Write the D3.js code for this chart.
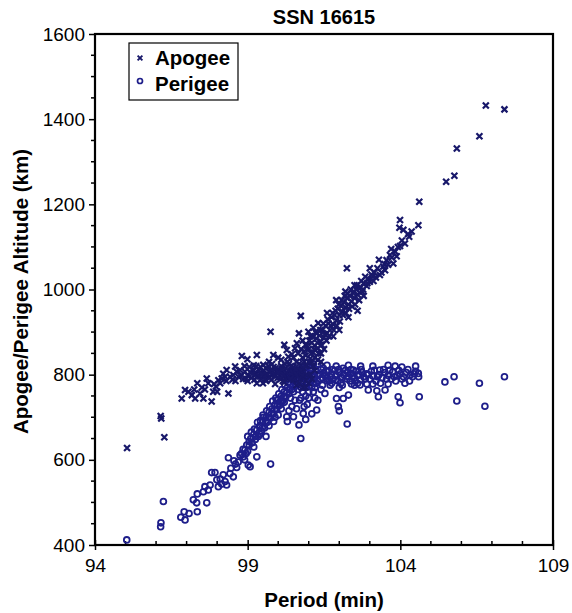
<!DOCTYPE html>
<html>
<head>
<meta charset="utf-8">
<script src="https://cdn.jsdelivr.net/npm/d3@7"></script>
<style>
  html, body { margin: 0; padding: 0; background: #fff; }
  svg text { font-family: "Liberation Sans", Arial, sans-serif; }
</style>
</head>
<body>
<svg id="chart" width="572" height="613"></svg>
<script>
// Gabbard diagram: debris of SSN 16615, orbital period vs apogee / perigee altitude
const chartTitle = "SSN 16615";
const xTitle = "Period (min)";
const yTitle = "Apogee/Perigee Altitude (km)";
const seriesNames = ["Apogee", "Perigee"];
const xTicks = [94, 99, 104, 109];
const yTicks = [400, 600, 800, 1000, 1200, 1400, 1600];

// [period (min), apogee altitude (km)]
const apogee = [
  [95.05,628],[96.15,703],[96.17,697],[96.27,653],
  [96.84,744],[96.95,764],[97.06,760],[97.17,752],[97.28,744],[97.35,780],[97.44,756],[97.55,744],
  [97.66,791],[97.71,780],[97.82,737],[97.87,760],[97.96,772],[98.04,787],[98.15,791],[98.26,795],
  [98.31,811],[98.37,756],[98.42,795],[98.53,799],[98.59,819],[98.64,807],[98.75,811],[98.81,799],
  [98.91,807],[98.99,836],
  [97.5,770],[97.6,765],[97.9,778],[98.1,780],[98.2,802],[98.5,788],[98.7,795],[98.85,790],[98.0,760],[97.25,765],
  [99.0,785],[98.6,785],[98.3,785],[98.9,820],[99.2,822],[99.5,780],[99.8,825],[100.15,785],
  [99.0,798],[99.08,806],[99.12,792],[99.2,810],[99.25,800],[99.3,795],[99.35,812],[99.4,803],[99.45,790],
  [99.5,808],[99.55,798],[99.6,815],[99.65,802],[99.7,792],[99.75,810],[99.8,800],[99.85,818],[99.9,795],
  [99.95,806],[100.0,812],[100.05,798],[100.1,820],[100.15,805],[100.2,795],[100.25,815],[100.3,803],
  [100.35,825],[100.4,808],[100.45,795],[100.5,818],[100.55,805],[100.6,830],[100.65,812],[100.7,800],
  [100.75,822],[100.8,808],
  [98.95,790],[99.05,818],[99.15,802],[99.22,788],[99.28,820],[99.38,796],[99.42,818],[99.48,800],
  [99.58,790],[99.62,800],[99.68,820],[99.72,805],[99.78,788],[99.82,808],[99.88,800],[99.92,815],
  [99.98,792],[100.02,805],[100.08,790],[100.12,812],[100.18,800],[100.22,825],[100.28,792],[100.32,810],
  [100.38,798],[100.42,820],[100.48,805],[100.52,795],[100.58,812],[100.62,800],[100.68,825],[100.72,810],
  [100.78,798],[100.82,815],
  [99.3,780],[99.6,785],[99.9,778],[100.2,782],[100.5,788],[100.7,790],[100.85,795],[100.9,785],
  [100.6,775],[100.8,770],[101.0,780],[101.1,790],[100.95,800],[101.2,810],[100.4,790],
  [100.7,780],[100.9,770],[101.05,800],[101.15,820],[101.3,835],[101.4,830],
  [100.3,830],[100.5,840],[100.65,850],[100.75,860],[100.9,870],[101.05,890],[100.8,880],[101.15,910],
  [98.81,844],[99.3,846],[99.84,846],[100.33,842],[100.28,858],[100.61,874],[99.51,823],[99.75,901],
  [100.74,938],[100.68,897],[101.31,921],[100.99,901],[101.26,897],[100.1,835],[100.45,848],[100.55,862],
  [100.2,870],[99.7,830],[100.0,840],
  [100.85,830],[100.9,845],[100.95,822],[101.0,860],[101.05,838],[101.1,875],[101.15,852],[101.2,868],
  [101.25,885],[101.3,862],[101.35,892],[101.4,878],[101.45,905],[101.5,888],[101.55,915],[101.6,898],
  [101.65,920],[101.7,905],[101.75,935],[101.8,918],[101.85,940],[101.9,928],[101.95,955],[102.0,940],
  [102.05,962],[102.1,948],[102.15,970],[102.2,958],[102.25,980],[102.3,965],[102.35,985],[102.4,972],
  [102.45,992],[102.5,980],[102.55,1000],[102.6,988],[102.7,1005],[102.75,995],[102.8,1015],[102.9,1008],
  [102.95,1025],[103.0,1018],[103.1,1030],[103.15,1040],[103.2,1028],[103.33,1034],[103.44,1054],
  [103.55,1069],[103.66,1081],[103.77,1061],[103.83,1089],[103.99,1102],[104.29,1124],[104.37,1136],
  [103.97,1145],[104.59,1151],[103.99,1163],[104.62,1206],[105.5,1253],[105.77,1267],[105.85,1331],
  [106.59,1360],[106.8,1432],[107.41,1423],
  [101.2,840],[101.5,860],[101.8,890],[102.0,905],[102.3,935],[102.6,950],[101.6,945],[101.9,975],
  [102.2,995],[102.25,1050],[102.5,1010],[103.0,1050],[103.3,1070],[103.5,1045],[103.7,1095],[102.8,985],
  [101.1,830],[101.4,850],
  [100.8,840],[100.85,855],[100.9,820],[100.95,868],[101.0,830],[101.02,880],[101.08,850],[101.12,890],
  [101.18,860],[101.22,900],[101.28,875],[101.32,850],[101.38,905],[101.42,870],[101.48,920],[101.52,895],
  [101.58,880],[101.62,930],[101.68,890],[101.72,915],[101.78,945],[101.82,905],[101.88,950],[101.92,915],
  [101.98,965],[102.02,925],[102.08,975],[102.12,940],[102.18,985],[102.22,945],[102.28,990],[102.32,955],
  [102.38,1000],[102.42,960],[102.48,995],[102.52,965],[102.58,1010],[102.65,975],[102.72,1020],
  [102.78,1000],[102.85,1030],[102.92,1015],[103.05,1035],[103.12,1020],[103.25,1050],[103.38,1040],
  [103.48,1060],[103.6,1058],[103.72,1075],[103.88,1078],[103.92,1100],[104.05,1115],[104.15,1108],
  [104.25,1130],[104.1,1140]
];

// [period (min), perigee altitude (km)]
const perigee = [
  [95.04,412],[96.15,443],[96.16,452],[96.24,502],
  [96.81,465],[96.92,478],[96.95,459],[97.08,474],[97.22,506],[97.33,499],[97.35,478],[97.35,520],
  [97.55,525],[97.6,537],[97.66,499],[97.71,529],[97.77,541],[97.82,570],[97.93,570],[97.99,553],
  [98.04,537],[98.15,543],[98.26,549],[98.31,541],[98.37,605],[98.42,568],[98.53,560],[98.55,598],
  [98.64,582],[98.69,595],[98.75,611],[98.86,607],[98.91,623],[98.97,635],[99.02,588],[99.05,643],
  [99.08,584],[99.3,607],[99.75,590],
  [98.95,615],[98.85,625],[98.9,600],[98.6,590],[98.45,580],[98.2,565],[98.1,555],[99.0,655],[99.05,635],
  [99.1,650],[99.15,640],[99.2,660],[99.25,648],[99.3,670],[99.35,655],[99.4,680],[99.45,668],
  [99.5,690],[99.55,675],[99.6,700],[99.65,688],[99.7,712],[99.75,698],[99.8,720],[99.85,708],
  [99.9,730],[99.95,718],[100.0,742],[100.05,728],[100.1,750],[100.15,738],[100.2,760],[100.25,748],
  [100.3,770],[100.35,755],[100.4,778],[100.45,765],[100.5,785],[100.55,772],[100.6,792],[100.65,780],
  [100.7,798],[100.75,785],[100.8,800],
  [99.12,665],[99.22,672],[99.28,655],[99.32,688],[99.42,692],[99.48,675],[99.52,700],[99.58,690],
  [99.62,715],[99.68,700],[99.72,725],[99.78,708],[99.82,738],[99.88,718],[99.92,745],[99.98,728],
  [100.02,755],[100.08,738],[100.12,765],[100.18,748],[100.22,775],[100.28,758],[100.32,782],[100.38,765],
  [100.42,790],[100.48,772],[100.52,795],[100.58,778],[100.62,800],[100.68,790],[100.72,808],[100.78,795],
  [99.2,630],[99.4,660],[99.5,705],[99.7,680],[99.9,700],[100.1,720],[100.2,735],[100.4,745],
  [100.5,701],[100.28,701],[100.82,709],[100.74,650],[100.68,682],[101.1,708],[101.26,717],[99.6,655],
  [99.0,620],[98.8,615],
  [100.2,745],[100.1,735],[99.95,740],[99.85,690],[100.0,705],[100.3,690],
  [100.6,720],[100.7,740],[100.8,760],[100.9,770],[100.75,745],[100.85,725],[101.0,745],[101.05,775],
  [101.15,760],[100.55,740],[100.45,725],[100.35,715],[100.9,695],[101.2,745],[101.25,780],
  [100.4,800],[100.6,810],[100.3,790],[100.5,760],[100.65,765],[100.75,770],[100.8,780],[101.1,770],
  [100.85,790],[100.9,805],[100.95,782],[101.0,798],[101.05,810],[101.1,788],[101.15,802],[101.2,795],
  [101.25,808],[101.3,785],[101.35,800],[101.4,812],[101.45,792],[101.5,805],[101.55,798],[101.6,786],
  [101.65,808],[101.7,795],[101.75,802],[101.8,790],[101.85,810],[101.9,797],[101.95,785],[102.0,805],
  [102.1,792],[102.15,800],[102.2,810],[102.3,795],[102.35,785],[102.4,803],[102.5,792],[102.55,808],
  [102.6,798],[102.7,788],[102.75,805],[102.8,795],[102.9,802],[103.0,790],[103.05,808],[103.1,797],
  [103.2,785],[103.3,800],[103.33,811],[103.4,793],[103.5,805],[103.6,798],[103.7,790],[103.75,806],
  [103.83,820],[103.9,798],[104.0,802],[104.1,795],[104.2,805],[104.32,799],[104.45,802],[104.59,803],
  [100.88,815],[100.98,790],[101.08,815],[101.18,780],[101.28,800],[101.38,790],[101.48,815],[101.58,808],
  [101.68,785],[101.78,812],[101.88,788],[101.98,812],[102.05,795],[102.12,815],[102.25,790],[102.28,805],
  [102.38,812],[102.45,795],[102.52,785],[102.65,800],[102.72,812],[102.85,790],[102.95,800],[103.15,810],
  [103.25,795],[103.45,812],[103.55,790],[103.65,810],[103.8,795],[103.95,810],[104.05,790],[104.25,812],
  [104.4,795],[104.5,808],[104.6,795],[102.05,780],[102.6,780],[103.1,778],[103.6,778],[104.15,780],
  [101.0,820],[101.15,825],[101.3,825],[101.45,775],[101.6,822],[101.75,780],[101.9,820],[102.1,775],
  [102.3,822],[102.5,775],[102.7,820],[102.9,778],[103.1,820],[103.35,780],[103.6,822],[103.85,785],
  [104.05,818],[104.3,785],[104.5,820],
  [101.53,756],[101.59,791],[101.91,744],[101.97,725],[102.0,715],[102.13,744],[102.26,684],[102.3,752],
  [102.46,811],[102.68,776],[102.95,764],[103.23,762],[103.28,748],[103.5,764],[103.93,748],[103.99,734],
  [104.62,748],[101.2,770],[101.4,765],[101.7,775],[102.0,770],[102.4,778],[101.0,760],[101.3,740],
  [100.9,750],[100.95,730],
  [105.46,783],[105.76,795],[105.85,738],[106.59,780],[106.77,726],[107.41,795]
];

const svg = d3.select("#chart");
const plotLeft = 95, plotRight = 553, plotTop = 34, plotBottom = 545;

const x = d3.scaleLinear().domain([94, 109]).range([plotLeft, plotRight]);
const y = d3.scaleLinear().domain([400, 1600]).range([plotBottom, plotTop]);

const apoColor = "#18186a";
const periColor = "#1e1e8a";

// Title
svg.append("text")
  .attr("x", (plotLeft + plotRight) / 2).attr("y", 24)
  .attr("text-anchor", "middle")
  .style("font-weight", "bold").style("font-size", "20px")
  .text(chartTitle);

// Minor ticks
const gMinor = svg.append("g");
gMinor.selectAll("line.mx")
  .data(d3.range(95, 109).filter(v => !xTicks.includes(v)))
  .join("line")
  .attr("x1", d => x(d)).attr("x2", d => x(d))
  .attr("y1", plotBottom - 4).attr("y2", plotBottom)
  .attr("stroke", "#000").attr("stroke-width", 1.5);
gMinor.selectAll("line.my")
  .data(d3.range(450, 1600, 50).filter(v => !yTicks.includes(v)))
  .join("line")
  .attr("x1", plotLeft - 4).attr("x2", plotLeft)
  .attr("y1", d => y(d)).attr("y2", d => y(d))
  .attr("stroke", "#000").attr("stroke-width", 1.5);

// Axes
const xAxis = svg.append("g")
  .attr("transform", `translate(0,${plotBottom})`)
  .call(d3.axisBottom(x).tickValues(xTicks).tickFormat(d3.format("d")).tickSize(5).tickPadding(9));
xAxis.selectAll(".tick line").attr("y1", -5).attr("y2", 5).attr("stroke-width", 1.5);
const yAxis = svg.append("g")
  .attr("transform", `translate(${plotLeft},0)`)
  .call(d3.axisLeft(y).tickValues(yTicks).tickFormat(d3.format("d")).tickSize(6).tickPadding(4));
yAxis.selectAll(".tick line").attr("stroke-width", 1.5);
[xAxis, yAxis].forEach(g => {
  g.select(".domain").remove();
  g.selectAll(".tick text")
    .style("font-size", "19px").attr("fill", "#000")
    .style("font-family", "'Liberation Sans', Arial, sans-serif");
});

// Frame
svg.append("rect")
  .attr("x", plotLeft).attr("y", plotTop)
  .attr("width", plotRight - plotLeft).attr("height", plotBottom - plotTop)
  .attr("fill", "none").attr("stroke", "#000").attr("stroke-width", 2.2);

// Axis titles
svg.append("text")
  .attr("x", (plotLeft + plotRight) / 2).attr("y", 607)
  .attr("text-anchor", "middle")
  .style("font-weight", "bold").style("font-size", "20.5px")
  .text(xTitle);
svg.append("text")
  .attr("transform", `translate(28,${(plotTop + plotBottom) / 2 + 2}) rotate(-90)`)
  .attr("text-anchor", "middle")
  .style("font-weight", "bold").style("font-size", "20.5px")
  .text(yTitle);

// Markers
const crossPath = s => `M${-s},${-s}L${s},${s}M${-s},${s}L${s},${-s}`;
const plot = svg.append("g");

plot.selectAll("circle.peri")
  .data(perigee)
  .join("circle")
  .attr("class", "peri")
  .attr("cx", d => x(d[0])).attr("cy", d => y(d[1]))
  .attr("r", 2.9)
  .attr("fill", "none").attr("stroke", periColor).attr("stroke-width", 1.8);

plot.selectAll("path.apo")
  .data(apogee)
  .join("path")
  .attr("class", "apo")
  .attr("transform", d => `translate(${x(d[0])},${y(d[1])})`)
  .attr("d", crossPath(3))
  .attr("fill", "none").attr("stroke", apoColor).attr("stroke-width", 2.2);

// Legend
const lg = svg.append("g");
lg.append("rect")
  .attr("x", 129).attr("y", 43).attr("width", 109).attr("height", 57)
  .attr("fill", "#fff").attr("stroke", "#000").attr("stroke-width", 1.2);
lg.append("path")
  .attr("transform", "translate(140,58)")
  .attr("d", crossPath(2.4))
  .attr("fill", "none").attr("stroke", apoColor).attr("stroke-width", 1.9);
lg.append("circle")
  .attr("cx", 140).attr("cy", 81).attr("r", 2.5)
  .attr("fill", "none").attr("stroke", periColor).attr("stroke-width", 1.7);
lg.selectAll("text")
  .data(seriesNames)
  .join("text")
  .attr("x", 155).attr("y", (d, i) => 65 + i * 26)
  .style("font-weight", "bold").style("font-size", "20.5px")
  .text(d => d);
</script>
</body>
</html>
